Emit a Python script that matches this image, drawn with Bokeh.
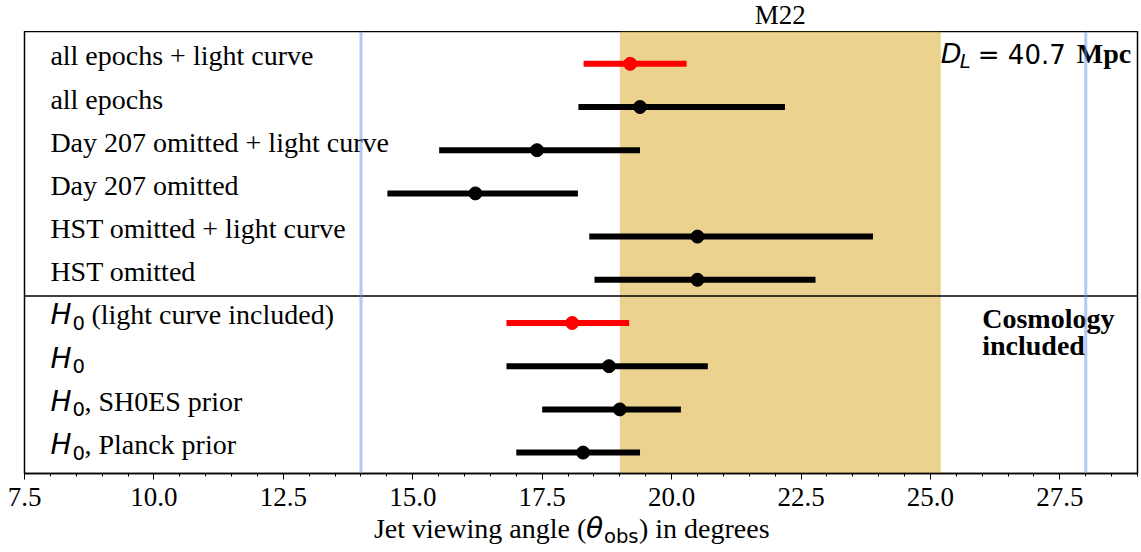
from bokeh.plotting import figure
from bokeh.layouts import column
from bokeh.models import ColumnDataSource, Range1d, Span, BoxAnnotation, FixedTicker
from bokeh.embed import file_html
from bokeh.resources import INLINE
from bokeh.core.properties import value

# ---------------- data ----------------
top_labels = [
    "all epochs + light curve",
    "all epochs",
    "Day 207 omitted + light curve",
    "Day 207 omitted",
    "HST omitted + light curve",
    "HST omitted",
]
h0_suffixes = ["\u00a0(light curve included)", "", ", SH0ES prior", ", Planck prior"]

centers = [19.20, 19.39, 17.40, 16.21, 20.50, 20.50, 18.08, 18.79, 19.00, 18.29]
lows    = [18.30, 18.20, 15.51, 14.51, 18.41, 18.51, 16.81, 16.81, 17.50, 17.00]
highs   = [20.29, 22.19, 19.39, 18.19, 23.89, 22.78, 19.18, 20.70, 20.18, 19.39]
row_colors = ["red", "black", "black", "black", "black", "black",
              "red", "black", "black", "black"]

tick_values = [7.5, 10.0, 12.5, 15.0, 17.5, 20.0, 22.5, 25.0, 27.5]
tick_labels = ["7.5", "10.0", "12.5", "15.0", "17.5", "20.0", "22.5", "25.0", "27.5"]

band_lo, band_hi = 19.0, 25.2
band_name = "M22"
ref_lines = [14.0, 28.0]
dist_value = "40.7"
cosmo_lines = ["Cosmology", "included"]
xlabel_parts = ["Jet viewing angle (", "\u03b8", "obs", ") in degrees"]

# ---------------- layout constants ----------------
SERIF = "Liberation Serif"
SANS = "DejaVu Sans"
FS = "28px"
SUB = "19.6px"
label_x = 8.0
divider_y = 5.375
xlab_x = 14.25
FW = 1113
LB, RB = 24, 3
TOP_H = 31
MAIN_BOTTOM = 45
BOT_PULL = 12           # bottom strip overlaps the (empty) lower border of the main plot
BOT_H = 44
K = 0.32                # alphabetic text lands lower by ~0.32 em; compensate

rows = list(range(len(centers)))
n_top = len(top_labels)
xr = Range1d(7.5, 29.0)


def sh(px):
    return -round(K * px)


def blank_fig(h):
    f = figure(frame_width=FW, frame_height=h, x_range=xr, y_range=Range1d(h, 0),
               output_backend="svg", toolbar_location=None, title=None,
               x_axis_location=None, y_axis_location=None,
               min_border_left=LB, min_border_right=RB, min_border_top=0, min_border_bottom=0)
    f.outline_line_color = None
    f.xgrid.visible = False
    f.ygrid.visible = False
    f.background_fill_alpha = 0
    f.border_fill_alpha = 0
    return f


# ---------- top strip: band name ----------
top = blank_fig(TOP_H)
top.text(x=[(band_lo + band_hi) / 2], y=[23], text=[band_name], text_font=value(SERIF),
         text_font_size="27px", text_align="center", text_baseline="alphabetic", text_color="black",
         y_offset=sh(27))

# ---------- main plot ----------
p = figure(frame_width=FW, frame_height=442, title=None,
           x_range=xr, y_range=Range1d(9.484, -0.748),
           output_backend="svg", toolbar_location=None,
           min_border_left=LB, min_border_right=RB, min_border_top=0, min_border_bottom=MAIN_BOTTOM)
p.background_fill_color = "white"
p.border_fill_color = "white"
p.outline_line_color = "black"
p.outline_line_width = 1.5
p.xgrid.visible = False
p.ygrid.visible = False
p.yaxis.visible = False

minor = [7.5 + 0.5 * k for k in range(0, 44)]
p.xaxis.ticker = FixedTicker(ticks=tick_values, minor_ticks=minor)
p.xaxis.major_label_overrides = {v: s for v, s in zip(tick_values, tick_labels)}
p.xaxis.major_label_text_font = SERIF
p.xaxis.major_label_text_font_size = "27px"
p.xaxis.major_label_text_color = "black"
p.xaxis.major_label_standoff = 8
p.xaxis.axis_label = None
p.xaxis.axis_label_standoff = 0
p.xaxis.major_tick_in = 0
p.xaxis.major_tick_out = 6
p.xaxis.minor_tick_in = 0
p.xaxis.minor_tick_out = 3
p.xaxis.major_tick_line_color = "black"
p.xaxis.minor_tick_line_color = "black"
p.xaxis.axis_line_color = "black"
p.xaxis.axis_line_width = 1.5

p.add_layout(BoxAnnotation(left=band_lo, right=band_hi, fill_color="goldenrod",
                           fill_alpha=0.5, line_color=None, level="underlay"))
p.add_layout(Span(location=divider_y, dimension="width", line_color="black", line_width=1.5))

src = ColumnDataSource(dict(y=rows, lo=lows, hi=highs, c=centers, color=row_colors))
p.segment(x0="lo", y0="y", x1="hi", y1="y", line_color="color", line_width=6, source=src)
p.scatter(x="c", y="y", size=13, fill_color="color", line_color="color", source=src)

top_src = ColumnDataSource(dict(x=[label_x] * n_top, y=rows[:n_top], t=top_labels))
p.text(x="x", y="y", text="t", source=top_src, text_font=value(SERIF), text_font_size=FS,
       text_color="black", text_baseline="alphabetic", text_align="left", y_offset=1 + sh(28))

h_rows = rows[n_top:]
hs = ColumnDataSource(dict(x=[label_x] * len(h_rows), y=h_rows,
                           h=["H"] * len(h_rows), s=["0"] * len(h_rows), t=h0_suffixes))
p.text(x="x", y="y", text="h", source=hs, text_font=value(SANS), text_font_style="italic",
       text_font_size=FS, text_color="black", text_baseline="alphabetic", y_offset=1 + sh(28))
p.text(x="x", y="y", text="s", source=hs, text_font=value(SANS), text_font_size=SUB,
       text_color="black", text_baseline="alphabetic", x_offset=22, y_offset=6 + sh(19.6))
p.text(x="x", y="y", text="t", source=hs, text_font=value(SERIF), text_font_size=FS,
       text_color="black", text_baseline="alphabetic", x_offset=34, y_offset=1 + sh(28))

dl = ColumnDataSource(dict(x=[band_hi], y=[rows[0]]))
p.text(x="x", y="y", text=value("D"), source=dl, text_font=value(SANS), text_font_style="italic",
       text_font_size="27px", text_baseline="alphabetic", y_offset=-1 + sh(27))
p.text(x="x", y="y", text=value("L"), source=dl, text_font=value(SANS), text_font_style="italic",
       text_font_size=SUB, text_baseline="alphabetic", x_offset=19, y_offset=4 + sh(19.6))
p.text(x="x", y="y", text=value("= " + dist_value), source=dl, text_font=value(SANS),
       text_font_size="26px", text_baseline="alphabetic", x_offset=37, y_offset=-1 + sh(26))
p.text(x="x", y="y", text=value("Mpc"), source=dl, text_font=value(SERIF), text_font_style="bold",
       text_font_size=FS, text_baseline="alphabetic", x_offset=136, y_offset=-1 + sh(28))

cs = ColumnDataSource(dict(x=[26.0, 26.0], y=[rows[n_top], rows[n_top]], t=cosmo_lines,
                           off=[5 + sh(28), 32 + sh(28)]))
p.text(x="x", y="y", text="t", source=cs, text_font=value(SERIF), text_font_style="bold",
       text_font_size=FS, text_baseline="alphabetic", y_offset="off")

for v in ref_lines:
    p.add_layout(Span(location=v, dimension="height", line_color="cornflowerblue",
                      line_alpha=0.5, line_width=3))

# ---------- bottom strip: x-axis label ----------
bot = blank_fig(BOT_H)
bot.margin = (-BOT_PULL, 0, 0, 0)
bot_top = TOP_H + 442 + MAIN_BOTTOM - BOT_PULL
base = 537 - bot_top
bot.text(x=[xlab_x], y=[base], text=[xlabel_parts[0]], text_font=value(SERIF), text_font_size=FS,
         text_baseline="alphabetic", text_color="black", y_offset=sh(28))
bot.text(x=[xlab_x], y=[base], text=[xlabel_parts[1]], text_font=value(SANS), text_font_style="italic",
         text_font_size=FS, text_baseline="alphabetic", text_color="black", x_offset=212,
         y_offset=sh(28))
bot.text(x=[xlab_x], y=[base + 5], text=[xlabel_parts[2]], text_font=value(SANS), text_font_size=SUB,
         text_baseline="alphabetic", text_color="black", x_offset=230, y_offset=sh(19.6))
bot.text(x=[xlab_x], y=[base], text=[xlabel_parts[3]], text_font=value(SERIF), text_font_size=FS,
         text_baseline="alphabetic", text_color="black", x_offset=265, y_offset=sh(28))

layout = column(top, p, bot, spacing=0)
open("out.html", "w").write(file_html(layout, INLINE))
